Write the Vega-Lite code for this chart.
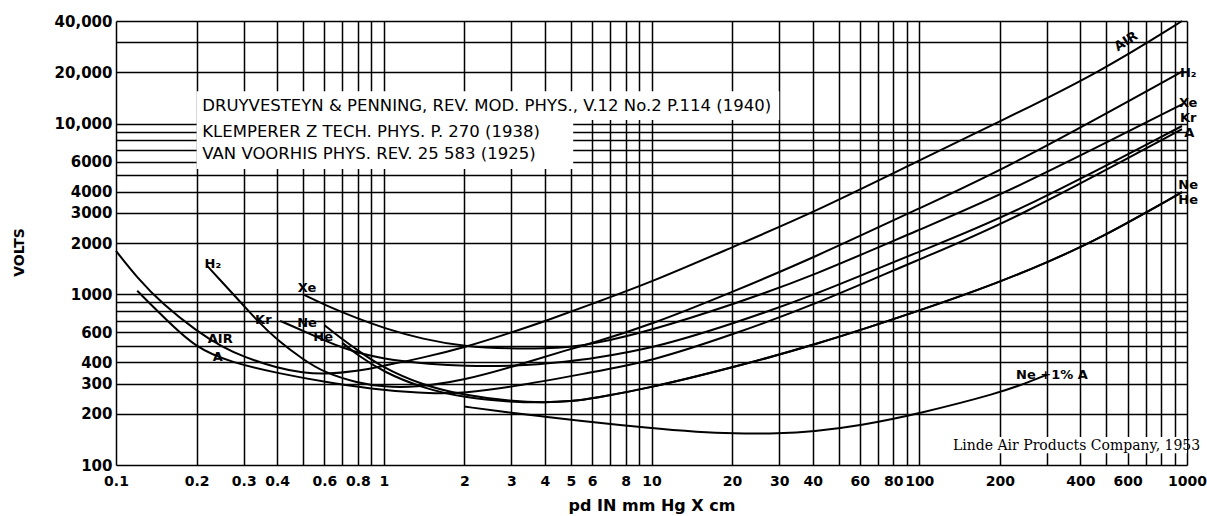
{
  "$schema": "https://vega.github.io/schema/vega-lite/v6.json",
  "autosize": "none",
  "width": 1071,
  "height": 444,
  "padding": {"left": 116, "top": 21, "right": 20, "bottom": 51},
  "background": "white",
  "config": {
    "view": {"stroke": null},
    "font": "DejaVu Sans",
    "axis": {"gridColor": "black", "gridOpacity": 1, "gridWidth": 1.5, "domain": false, "ticks": false, "labelColor": "black", "titleColor": "black", "labelFont": "DejaVu Sans", "titleFont": "DejaVu Sans"}
  },
  "datasets": {
    "curves": [
      {"gas": "AIR", "pd": 0.1, "v": 1800}, {"gas": "AIR", "pd": 0.12, "v": 1250}, {"gas": "AIR", "pd": 0.15, "v": 870}, {"gas": "AIR", "pd": 0.2, "v": 610}, {"gas": "AIR", "pd": 0.25, "v": 490}, {"gas": "AIR", "pd": 0.3, "v": 430}, {"gas": "AIR", "pd": 0.4, "v": 370}, {"gas": "AIR", "pd": 0.5, "v": 347}, {"gas": "AIR", "pd": 0.6, "v": 340}, {"gas": "AIR", "pd": 0.8, "v": 355}, {"gas": "AIR", "pd": 1, "v": 382}, {"gas": "AIR", "pd": 1.4, "v": 425}, {"gas": "AIR", "pd": 2, "v": 488}, {"gas": "AIR", "pd": 3, "v": 598}, {"gas": "AIR", "pd": 4, "v": 695}, {"gas": "AIR", "pd": 6, "v": 880}, {"gas": "AIR", "pd": 10, "v": 1180}, {"gas": "AIR", "pd": 20, "v": 1890}, {"gas": "AIR", "pd": 40, "v": 3000}, {"gas": "AIR", "pd": 100, "v": 6100}, {"gas": "AIR", "pd": 200, "v": 10300}, {"gas": "AIR", "pd": 480, "v": 20300}, {"gas": "AIR", "pd": 958, "v": 40000},
      {"gas": "H2", "pd": 0.22, "v": 1460}, {"gas": "H2", "pd": 0.25, "v": 1170}, {"gas": "H2", "pd": 0.3, "v": 860}, {"gas": "H2", "pd": 0.34, "v": 690}, {"gas": "H2", "pd": 0.4, "v": 540}, {"gas": "H2", "pd": 0.5, "v": 415}, {"gas": "H2", "pd": 0.6, "v": 348}, {"gas": "H2", "pd": 0.8, "v": 302}, {"gas": "H2", "pd": 1, "v": 287}, {"gas": "H2", "pd": 1.3, "v": 284}, {"gas": "H2", "pd": 2, "v": 314}, {"gas": "H2", "pd": 3, "v": 375}, {"gas": "H2", "pd": 5, "v": 480}, {"gas": "H2", "pd": 6, "v": 518}, {"gas": "H2", "pd": 10, "v": 665}, {"gas": "H2", "pd": 20, "v": 1030}, {"gas": "H2", "pd": 40, "v": 1630}, {"gas": "H2", "pd": 100, "v": 3200}, {"gas": "H2", "pd": 216, "v": 5560}, {"gas": "H2", "pd": 958, "v": 20200},
      {"gas": "Xe", "pd": 0.5, "v": 1000}, {"gas": "Xe", "pd": 0.6, "v": 870}, {"gas": "Xe", "pd": 0.8, "v": 720}, {"gas": "Xe", "pd": 1, "v": 635}, {"gas": "Xe", "pd": 1.4, "v": 545}, {"gas": "Xe", "pd": 2, "v": 495}, {"gas": "Xe", "pd": 3, "v": 480}, {"gas": "Xe", "pd": 4, "v": 482}, {"gas": "Xe", "pd": 5, "v": 493}, {"gas": "Xe", "pd": 6, "v": 510}, {"gas": "Xe", "pd": 10, "v": 615}, {"gas": "Xe", "pd": 20, "v": 870}, {"gas": "Xe", "pd": 40, "v": 1280}, {"gas": "Xe", "pd": 100, "v": 2400}, {"gas": "Xe", "pd": 216, "v": 3980}, {"gas": "Xe", "pd": 958, "v": 13000},
      {"gas": "Kr", "pd": 0.41, "v": 700}, {"gas": "Kr", "pd": 0.5, "v": 612}, {"gas": "Kr", "pd": 0.7, "v": 480}, {"gas": "Kr", "pd": 1, "v": 415}, {"gas": "Kr", "pd": 1.5, "v": 390}, {"gas": "Kr", "pd": 2, "v": 380}, {"gas": "Kr", "pd": 3, "v": 378}, {"gas": "Kr", "pd": 5, "v": 405}, {"gas": "Kr", "pd": 6, "v": 422}, {"gas": "Kr", "pd": 10, "v": 480}, {"gas": "Kr", "pd": 20, "v": 670}, {"gas": "Kr", "pd": 40, "v": 980}, {"gas": "Kr", "pd": 100, "v": 1790}, {"gas": "Kr", "pd": 216, "v": 2860}, {"gas": "Kr", "pd": 958, "v": 9700},
      {"gas": "A", "pd": 0.12, "v": 1050}, {"gas": "A", "pd": 0.15, "v": 740}, {"gas": "A", "pd": 0.2, "v": 480}, {"gas": "A", "pd": 0.27, "v": 400}, {"gas": "A", "pd": 0.4, "v": 345}, {"gas": "A", "pd": 0.65, "v": 300}, {"gas": "A", "pd": 1, "v": 274}, {"gas": "A", "pd": 1.5, "v": 262}, {"gas": "A", "pd": 2, "v": 264}, {"gas": "A", "pd": 3, "v": 286}, {"gas": "A", "pd": 6, "v": 350}, {"gas": "A", "pd": 10, "v": 405}, {"gas": "A", "pd": 20, "v": 580}, {"gas": "A", "pd": 40, "v": 860}, {"gas": "A", "pd": 100, "v": 1610}, {"gas": "A", "pd": 216, "v": 2640}, {"gas": "A", "pd": 958, "v": 9300},
      {"gas": "Ne", "pd": 0.6, "v": 660}, {"gas": "Ne", "pd": 0.7, "v": 545}, {"gas": "Ne", "pd": 0.8, "v": 470}, {"gas": "Ne", "pd": 0.97, "v": 380}, {"gas": "Ne", "pd": 1.38, "v": 295}, {"gas": "Ne", "pd": 2, "v": 256}, {"gas": "Ne", "pd": 3, "v": 236}, {"gas": "Ne", "pd": 4, "v": 232}, {"gas": "Ne", "pd": 5, "v": 236}, {"gas": "Ne", "pd": 6, "v": 245}, {"gas": "Ne", "pd": 10, "v": 284}, {"gas": "Ne", "pd": 20, "v": 372}, {"gas": "Ne", "pd": 40, "v": 500}, {"gas": "Ne", "pd": 100, "v": 800}, {"gas": "Ne", "pd": 200, "v": 1180}, {"gas": "Ne", "pd": 300, "v": 1540}, {"gas": "Ne", "pd": 467, "v": 2100}, {"gas": "Ne", "pd": 958, "v": 3970},
      {"gas": "He", "pd": 0.7, "v": 520}, {"gas": "He", "pd": 0.8, "v": 440}, {"gas": "He", "pd": 1, "v": 350}, {"gas": "He", "pd": 1.4, "v": 282}, {"gas": "He", "pd": 2, "v": 248}, {"gas": "He", "pd": 3, "v": 234}, {"gas": "He", "pd": 4, "v": 232}, {"gas": "He", "pd": 5, "v": 236}, {"gas": "He", "pd": 6, "v": 245}, {"gas": "He", "pd": 10, "v": 284}, {"gas": "He", "pd": 20, "v": 372}, {"gas": "He", "pd": 40, "v": 500}, {"gas": "He", "pd": 100, "v": 800}, {"gas": "He", "pd": 200, "v": 1180}, {"gas": "He", "pd": 300, "v": 1540}, {"gas": "He", "pd": 467, "v": 2100}, {"gas": "He", "pd": 958, "v": 3970},
      {"gas": "Ne+1%A", "pd": 2, "v": 220}, {"gas": "Ne+1%A", "pd": 3, "v": 202}, {"gas": "Ne+1%A", "pd": 4, "v": 192}, {"gas": "Ne+1%A", "pd": 5, "v": 184}, {"gas": "Ne+1%A", "pd": 10, "v": 164}, {"gas": "Ne+1%A", "pd": 15, "v": 156}, {"gas": "Ne+1%A", "pd": 20, "v": 153}, {"gas": "Ne+1%A", "pd": 30, "v": 153}, {"gas": "Ne+1%A", "pd": 40, "v": 157}, {"gas": "Ne+1%A", "pd": 60, "v": 170}, {"gas": "Ne+1%A", "pd": 100, "v": 200}, {"gas": "Ne+1%A", "pd": 200, "v": 265}, {"gas": "Ne+1%A", "pd": 250, "v": 302}, {"gas": "Ne+1%A", "pd": 300, "v": 338}
    ],
    "masks": [
      {"x1": 0.2, "x2": 5.1, "y1": 5430, "y2": 15500},
      {"x1": 5.1, "x2": 30, "y1": 10500, "y2": 15500},
      {"x1": 120, "x2": 1000, "y1": 117, "y2": 146}
    ],
    "labels": [
      {"text": "H₂", "pd": 0.23, "v": 1500, "size": 13, "align": "left", "angle": 0},
      {"text": "Xe", "pd": 0.517, "v": 1085, "size": 13, "align": "left", "angle": 0},
      {"text": "Kr", "pd": 0.355, "v": 711, "size": 13, "align": "left", "angle": 0},
      {"text": "Ne", "pd": 0.517, "v": 684, "size": 13, "align": "left", "angle": 0},
      {"text": "He", "pd": 0.594, "v": 566, "size": 13, "align": "left", "angle": 0},
      {"text": "AIR", "pd": 0.245, "v": 544, "size": 13, "align": "left", "angle": 0},
      {"text": "A", "pd": 0.24, "v": 432, "size": 13, "align": "left", "angle": 0},
      {"text": "AIR", "pd": 592, "v": 30370, "size": 13, "align": "center", "angle": -33},
      {"text": "H₂", "pd": 1010, "v": 19950, "size": 13, "align": "left", "angle": 0},
      {"text": "Xe", "pd": 1010, "v": 13290, "size": 13, "align": "left", "angle": 0},
      {"text": "Kr", "pd": 1010, "v": 10840, "size": 13, "align": "left", "angle": 0},
      {"text": "A", "pd": 1020, "v": 8860, "size": 13, "align": "left", "angle": 0},
      {"text": "Ne", "pd": 1010, "v": 4380, "size": 13, "align": "left", "angle": 0},
      {"text": "He", "pd": 1010, "v": 3570, "size": 13, "align": "left", "angle": 0},
      {"text": "Ne +1% A", "pd": 313, "v": 338, "size": 13, "align": "left", "angle": 0}
    ],
    "refs": [
      {"text": "DRUYVESTEYN & PENNING, REV. MOD. PHYS., V.12 No.2 P.114 (1940)", "pd": 0.21, "v": 12760},
      {"text": "KLEMPERER Z TECH. PHYS. P. 270 (1938)", "pd": 0.21, "v": 8970},
      {"text": "VAN VOORHIS PHYS. REV. 25 583 (1925)", "pd": 0.21, "v": 6660}
    ],
    "credit": [
      {"text": "Linde Air Products Company, 1953", "pd": 1120, "v": 129}
    ]
  },
  "layer": [
    {
      "data": {"name": "masks"},
      "mark": {"type": "rect", "fill": "white", "stroke": null},
      "encoding": {
        "x": {"field": "x1", "type": "quantitative", "scale": {"type": "log", "domain": [0.1, 1000], "nice": false},
          "axis": {"values": [0.1,0.2,0.3,0.4,0.5,0.6,0.7,0.8,0.9,1,2,3,4,5,6,7,8,9,10,20,30,40,50,60,70,80,90,100,200,300,400,500,600,700,800,900,1000],
            "labelExpr": "indexof([0.1,0.2,0.3,0.4,0.6,0.8,1,2,3,4,5,6,8,10,20,30,40,60,80,100,200,400,600,1000], datum.value) >= 0 ? format(datum.value, '~g') : ''",
            "labelFontSize": 14, "labelFontWeight": "bold", "labelPadding": 9, "labelOverlap": false, "labelFlush": false,
            "title": "pd IN mm Hg X cm", "titleFontSize": 16, "titleFontWeight": "bold", "titlePadding": 9, "zindex": 0}},
        "x2": {"field": "x2"},
        "y": {"field": "y1", "type": "quantitative", "scale": {"type": "log", "domain": [100, 40000], "nice": false},
          "axis": {"values": [100,200,300,400,500,600,700,800,900,1000,2000,3000,4000,5000,6000,7000,8000,9000,10000,20000,30000,40000],
            "labelExpr": "indexof([100,200,300,400,600,1000,2000,3000,4000,6000], datum.value) >= 0 ? format(datum.value, 'd') : (indexof([10000,20000,40000], datum.value) >= 0 ? format(datum.value, ',') : '')",
            "labelFontSize": 15, "labelFontWeight": "bold", "labelPadding": 4, "labelOverlap": false, "labelFlush": false,
            "title": "VOLTS", "titleFontSize": 14, "titleFontWeight": "bold", "titlePadding": 28, "titleY": 231, "zindex": 0}},
        "y2": {"field": "y2"}
      }
    },
    {
      "data": {"name": "curves"},
      "mark": {"type": "line", "color": "black", "strokeWidth": 2, "interpolate": "basis"},
      "encoding": {
        "x": {"field": "pd", "type": "quantitative"},
        "y": {"field": "v", "type": "quantitative"},
        "detail": {"field": "gas"}
      }
    },
    {
      "data": {"name": "labels"},
      "mark": {"type": "text", "color": "black", "fontWeight": "bold", "baseline": "middle"},
      "encoding": {
        "x": {"field": "pd", "type": "quantitative"},
        "y": {"field": "v", "type": "quantitative"},
        "text": {"field": "text"},
        "size": {"field": "size", "type": "quantitative", "scale": null},
        "angle": {"field": "angle", "type": "quantitative", "scale": null},
        "align": {"field": "align"}
      }
    },
    {
      "data": {"name": "refs"},
      "mark": {"type": "text", "color": "black", "fontSize": 16.5, "align": "left", "baseline": "middle"},
      "encoding": {
        "x": {"field": "pd", "type": "quantitative"},
        "y": {"field": "v", "type": "quantitative"},
        "text": {"field": "text"}
      }
    },
    {
      "data": {"name": "credit"},
      "mark": {"type": "text", "color": "black", "fontSize": 14, "font": "DejaVu Serif", "align": "right", "baseline": "middle"},
      "encoding": {
        "x": {"field": "pd", "type": "quantitative"},
        "y": {"field": "v", "type": "quantitative"},
        "text": {"field": "text"}
      }
    }
  ]
}
